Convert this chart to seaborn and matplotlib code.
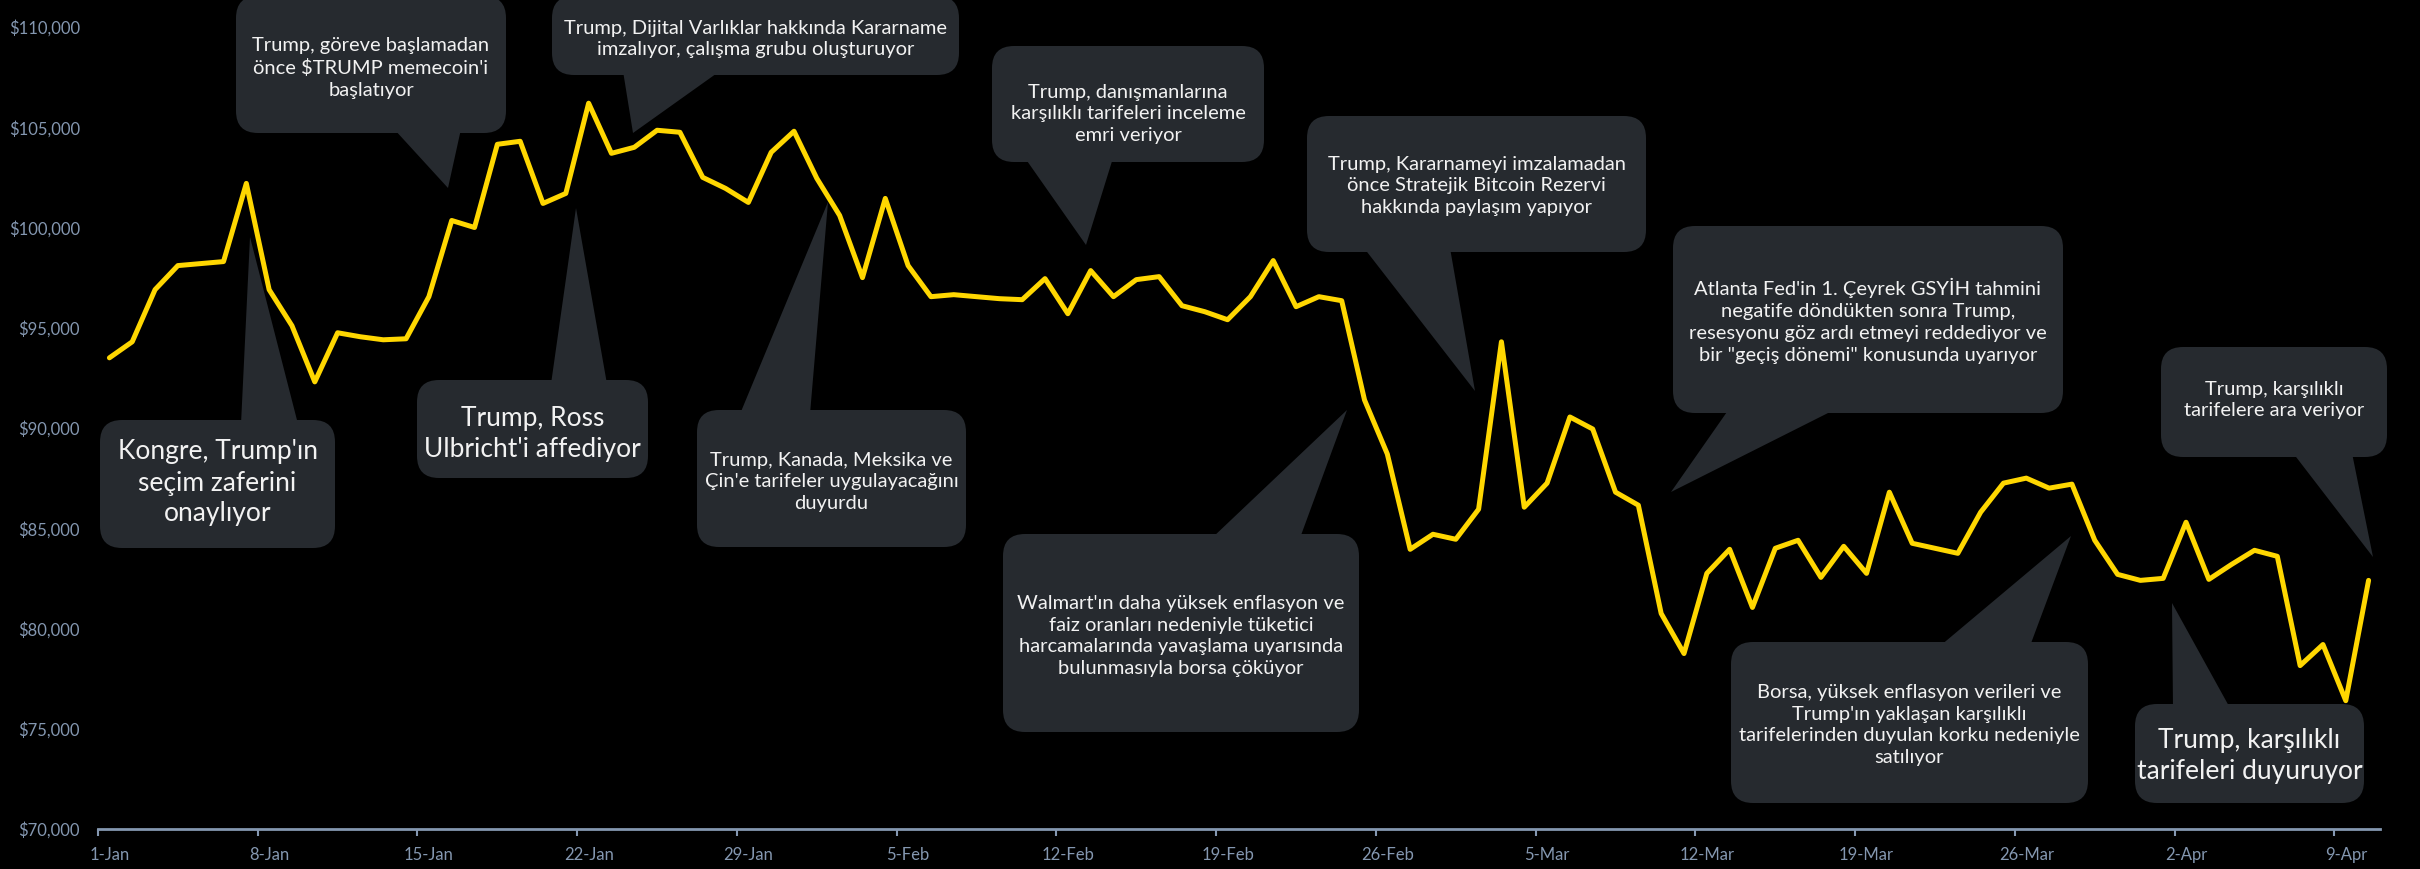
import pandas as pd
import seaborn as sns
import matplotlib.pyplot as plt
import matplotlib.dates as mdates
from matplotlib.patches import FancyBboxPatch, Polygon
from matplotlib.transforms import IdentityTransform

# Bitcoin daily close, 1 Jan 2025 - 10 Apr 2025
start_date = "2025-01-01"
btc_close = [
    93500, 94300, 96900, 98100, 98200, 98300, 102200, 96900, 95100, 92300,
    94750, 94550, 94400, 94450, 96550, 100350, 100000, 104150, 104300, 101200,
    101700, 106200, 103700, 104000, 104850, 104750, 102500, 101950, 101250, 103750,
    104800, 102450, 100600, 97500, 101450, 98100, 96550, 96650, 96550, 96450,
    96400, 97450, 95700, 97850, 96550, 97400, 97550, 96100, 95800, 95400,
    96550, 98350, 96050, 96550, 96350, 91400, 88700, 83950, 84700, 84450,
    85950, 94300, 86050, 87250, 90550, 89950, 86800, 86150, 80750, 78750,
    82750, 83950, 81050, 84000, 84400, 82550, 84100, 82750, 86800, 84250,
    84000, 83750, 85800, 87250, 87500, 87000, 87200, 84400, 82700, 82400,
    82500, 85300, 82450, 83200, 83900, 83600, 78150, 79200, 76400, 82400,
]
tick_dates = ["2025-01-01", "2025-01-08", "2025-01-15", "2025-01-22", "2025-01-29",
              "2025-02-05", "2025-02-12", "2025-02-19", "2025-02-26", "2025-03-05",
              "2025-03-12", "2025-03-19", "2025-03-26", "2025-04-02", "2025-04-09"]
y_ticks = [70000, 75000, 80000, 85000, 90000, 95000, 100000, 105000, 110000]

# event call-outs (text, large font?)
events = [
    ("Trump, göreve başlamadan\nönce $TRUMP memecoin'i\nbaşlatıyor", False),
    ("Trump, Dijital Varlıklar hakkında Kararname\nimzalıyor, çalışma grubu oluşturuyor", False),
    ("Kongre, Trump'ın\nseçim zaferini\nonaylıyor", True),
    ("Trump, Ross\nUlbricht'i affediyor", True),
    ("Trump, Kanada, Meksika ve\nÇin'e tarifeler uygulayacağını\nduyurdu", False),
    ("Trump, danışmanlarına\nkarşılıklı tarifeleri inceleme\nemri veriyor", False),
    ("Trump, Kararnameyi imzalamadan\nönce Stratejik Bitcoin Rezervi\nhakkında paylaşım yapıyor", False),
    ("Walmart'ın daha yüksek enflasyon ve\nfaiz oranları nedeniyle tüketici\n"
     "harcamalarında yavaşlama uyarısında\nbulunmasıyla borsa çöküyor", False),
    ("Atlanta Fed'in 1. Çeyrek GSYİH tahmini\nnegatife döndükten sonra Trump,\n"
     "resesyonu göz ardı etmeyi reddediyor ve\nbir \"geçiş dönemi\" konusunda uyarıyor", False),
    ("Trump, karşılıklı\ntarifelere ara veriyor", False),
    ("Borsa, yüksek enflasyon verileri ve\nTrump'ın yaklaşan karşılıklı\n"
     "tarifelerinden duyulan korku nedeniyle\nsatılıyor", False),
    ("Trump, karşılıklı\ntarifeleri duyuruyor", True),
]

# bubble layout in image pixels (top-left origin):
# box left, top, right, bottom, text centre y, pointer edge, base x0, base x1, tip x, tip y
bubble_layout = [
    (236, -4, 506, 133, 68, "bottom", 394, 461, 448, 188),
    (552, -4, 959, 75, 39, "bottom", 623, 720, 633, 133),
    (100, 420, 335, 548, 483, "top", 241, 298, 250, 237),
    (417, 380, 648, 478, 434, "top", 551, 607, 576, 208),
    (697, 410, 966, 547, 482, "top", 740, 810, 828, 202),
    (992, 46, 1264, 162, 114, "bottom", 1025, 1113, 1086, 245),
    (1307, 116, 1646, 252, 186, "bottom", 1364, 1450, 1475, 391),
    (1003, 534, 1359, 732, 636, "top", 1212, 1300, 1347, 410),
    (1673, 226, 2063, 413, 321, "bottom", 1729, 1836, 1671, 492),
    (2161, 347, 2387, 457, 400, "bottom", 2293, 2352, 2373, 557),
    (1731, 642, 2088, 803, 725, "top", 1940, 2030, 2071, 536),
    (2135, 704, 2364, 803, 756, "top", 2173, 2230, 2172, 603),
]

W, H, DPI = 2420, 869, 100
BG = "#000000"
BUBBLE = "#262a2f"
LINE = "#ffd700"
AXIS = "#8497b0"

sns.set_style("dark", {"axes.facecolor": BG, "figure.facecolor": BG})
plt.rcParams["font.family"] = ["Lato", "DejaVu Sans"]

dates = pd.date_range(start_date, periods=len(btc_close))
df = pd.DataFrame({"date": dates + pd.Timedelta(hours=12), "close": btc_close})

fig = plt.figure(figsize=(W / DPI, H / DPI), dpi=DPI)
ax = fig.add_axes([98 / W, 1 - 829 / H, 2282 / W, 802 / H])

sns.lineplot(data=df, x="date", y="close", color=LINE, linewidth=3.6, ax=ax,
             zorder=1)

ax.set_xlim(mdates.date2num(dates[0]), mdates.date2num(dates[-1] + pd.Timedelta(days=1)))
ax.set_ylim(y_ticks[0], y_ticks[-1])
ax.set_xlabel("")
ax.set_ylabel("")
ax.grid(False)

# ticks on day boundaries, labels centred on the day
major = [mdates.date2num(pd.Timestamp(d)) for d in tick_dates]
ax.set_xticks(major)
ax.set_xticklabels([])
ax.set_xticks([m + 0.5 for m in major], minor=True)
ax.set_xticklabels([f"{pd.Timestamp(d).day}-{pd.Timestamp(d):%b}" for d in tick_dates],
                   minor=True)
ax.tick_params(axis="x", which="major", length=5, width=1.5, color=AXIS,
               direction="out", bottom=True)
ax.tick_params(axis="x", which="minor", length=0, pad=13, labelsize=12,
               labelcolor=AXIS)

ax.set_yticks(y_ticks)
ax.set_yticklabels([f"${v:,.0f}" for v in y_ticks])
ax.tick_params(axis="y", length=0, pad=13, labelsize=12, labelcolor=AXIS)

for side in ["left", "right", "top"]:
    ax.spines[side].set_visible(False)
ax.spines["bottom"].set_color(AXIS)
ax.spines["bottom"].set_linewidth(2)

# speech bubbles
ident = IdentityTransform()
for (text, big), lay in zip(events, bubble_layout):
    x0, y0, x1, y1, ty, edge, b0, b1, tx, tyy = lay
    box = FancyBboxPatch((x0, H - y1), x1 - x0, y1 - y0,
                         boxstyle="round,pad=0,rounding_size=22",
                         facecolor=BUBBLE, edgecolor="none",
                         transform=ident, zorder=3)
    fig.add_artist(box)
    base_y = y1 - 4 if edge == "bottom" else y0 + 4
    tri = Polygon([(b0, H - base_y), (b1, H - base_y), (tx, H - tyy)],
                  closed=True, facecolor=BUBBLE, edgecolor="none",
                  transform=ident, zorder=3)
    fig.add_artist(tri)
    fig.text((x0 + x1) / 2, H - ty, text, transform=ident, ha="center",
             va="center", color="#f2f2f2", fontsize=19 if big else 14.5,
             linespacing=1.3 if big else 1.35, zorder=4)

fig.savefig("out.png", dpi=DPI, facecolor=BG)
